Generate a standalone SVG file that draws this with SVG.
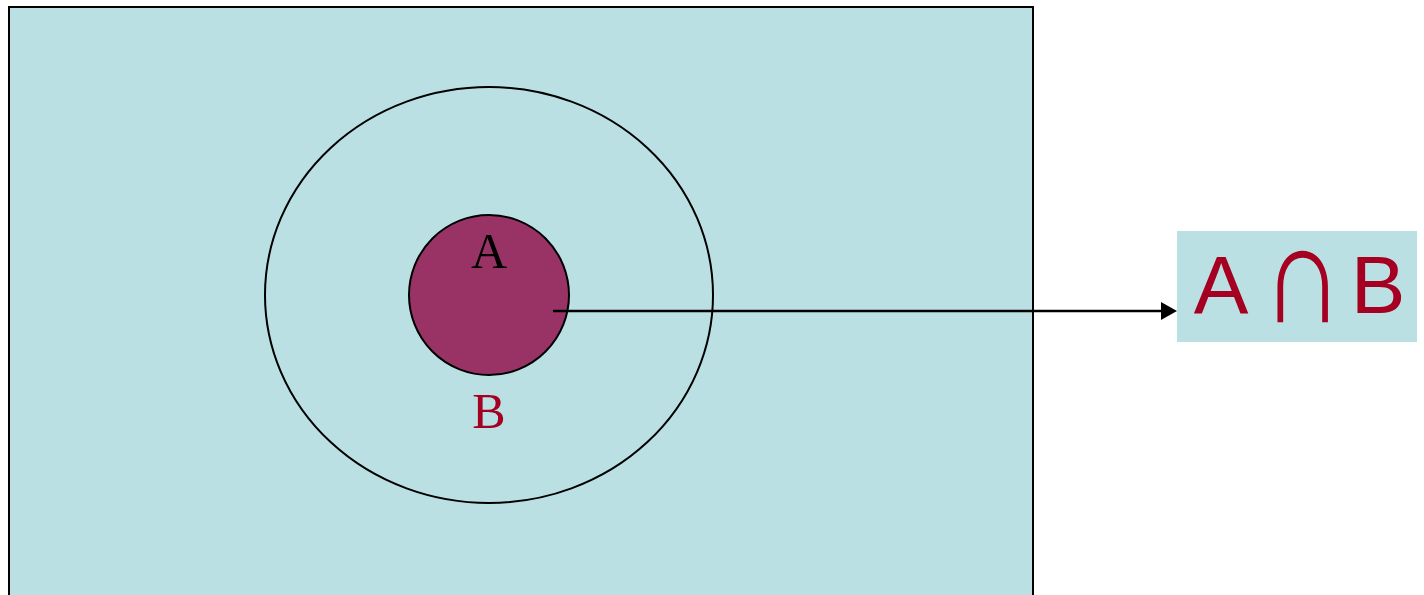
<svg xmlns="http://www.w3.org/2000/svg" width="1424" height="595" viewBox="0 0 1424 595">
<style>
.lbl{font-family:"Liberation Serif",serif;font-size:50px;text-anchor:middle}
.res{font-family:"Liberation Sans",sans-serif;font-size:82px;fill:#A50021;text-anchor:middle}
</style>
<rect width="1424" height="595" fill="#fff"/>
<g id="universe"><rect x="9" y="7" width="1024" height="600" fill="#BBE0E3" stroke="#000" stroke-width="2"/></g>
<g id="setB"><ellipse cx="489" cy="295" rx="224" ry="208" fill="none" stroke="#000" stroke-width="2"/><text class="lbl" x="489" y="428" fill="#A50021">B</text></g>
<g id="setA"><circle cx="489" cy="295" r="80" fill="#993366" stroke="#000" stroke-width="2"/><text class="lbl" x="489" y="268" fill="#000">A</text></g>
<g id="connectors"><line x1="553" y1="311" x2="1170" y2="311" stroke="#000" stroke-width="2.5"/><path d="M1161,302 L1177,311 L1161,320 z" fill="#000"/></g>
<g id="result"><rect x="1177" y="231" width="240" height="111" fill="#BBE0E3"/><text x="1221" y="313" class="res">A</text><text x="1303" y="322" class="res" font-family="DejaVu Sans,sans-serif" transform="translate(1303,322) scale(1.38,1.73) translate(-1303,-322)">∩</text><text x="1378" y="313" class="res">B</text></g>
</svg>
